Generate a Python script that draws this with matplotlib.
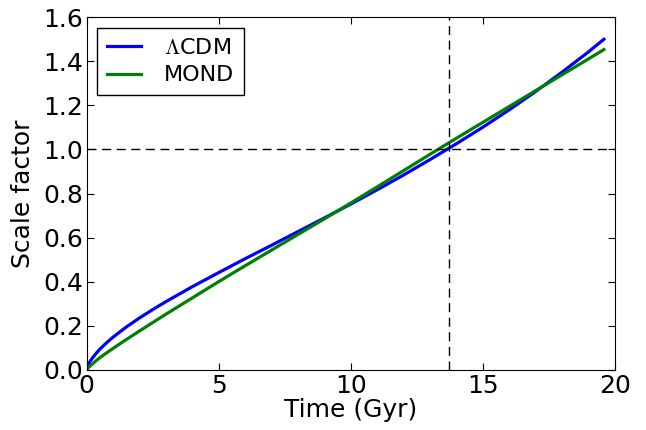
import matplotlib
matplotlib.use('Agg')
import matplotlib.pyplot as plt

plt.rcParams['font.family'] = ['DejaVu Sans']
plt.rcParams['font.size'] = 18
plt.rcParams['mathtext.fontset'] = 'cm'
plt.rcParams['xtick.direction'] = 'in'
plt.rcParams['ytick.direction'] = 'in'
plt.rcParams['xtick.top'] = True
plt.rcParams['ytick.right'] = True
plt.rcParams['xtick.major.size'] = 5
plt.rcParams['ytick.major.size'] = 5
plt.rcParams['xtick.major.pad'] = 3
plt.rcParams['ytick.major.pad'] = 2.5

# expansion histories: time in Gyr, scale factor a(t)
t_lcdm = [0, 0.02, 0.05, 0.1, 0.2, 0.35, 0.5, 0.75, 1, 1.5, 2, 2.5, 3, 4, 5,
          6, 7, 8, 9, 10, 11, 12, 13, 14, 15, 16, 17, 18, 19, 19.58]
a_lcdm = [0, 0.011, 0.020, 0.032, 0.050, 0.073, 0.093, 0.122, 0.148, 0.194,
          0.235, 0.273, 0.309, 0.377, 0.441, 0.504, 0.565, 0.627, 0.689,
          0.752, 0.817, 0.884, 0.954, 1.026, 1.101, 1.180, 1.263, 1.351,
          1.443, 1.50]

t_mond = [0, 0.05, 0.15, 0.3, 0.5, 0.75, 1, 1.5, 2, 2.5, 3, 4, 5, 6, 7, 8,
          9, 10, 11, 12, 13, 14, 15, 16, 17, 18, 19, 19.58]
a_mond = [0, 0.007, 0.019, 0.035, 0.055, 0.076, 0.097, 0.137, 0.176, 0.214,
          0.252, 0.326, 0.400, 0.472, 0.543, 0.614, 0.685, 0.757, 0.830,
          0.904, 0.978, 1.051, 1.123, 1.195, 1.267, 1.339, 1.411, 1.453]

t_today = 13.7
a_today = 1.0

fig = plt.figure(figsize=(6.46, 4.30), dpi=100)
ax = fig.add_axes([0.134, 0.140, 0.818, 0.820])

ax.plot(t_lcdm, a_lcdm, color='b', lw=2.3, label=r'$\Lambda$CDM')
ax.plot(t_mond, a_mond, color='g', lw=2.3, label='MOND')
ax.axvline(t_today, color='k', ls='--', lw=1, dashes=(6.5, 4))
ax.axhline(a_today, color='k', ls='--', lw=1, dashes=(6.5, 4))

ax.set_xlim(0, 20)
ax.set_ylim(0, 1.6)
ax.set_xticks([0, 5, 10, 15, 20])
ax.set_yticks([0.0, 0.2, 0.4, 0.6, 0.8, 1.0, 1.2, 1.4, 1.6])
ax.set_xlabel('Time (Gyr)', labelpad=0)
ax.set_ylabel('Scale factor', labelpad=6)

leg = ax.legend(loc='upper left', fontsize=16, fancybox=False, framealpha=1,
                edgecolor='k', handlelength=1.55, handletextpad=1.0,
                borderpad=0.45, labelspacing=0.35, borderaxespad=0.47)
leg.get_frame().set_linewidth(1)

fig.savefig('out.png', dpi=100)
